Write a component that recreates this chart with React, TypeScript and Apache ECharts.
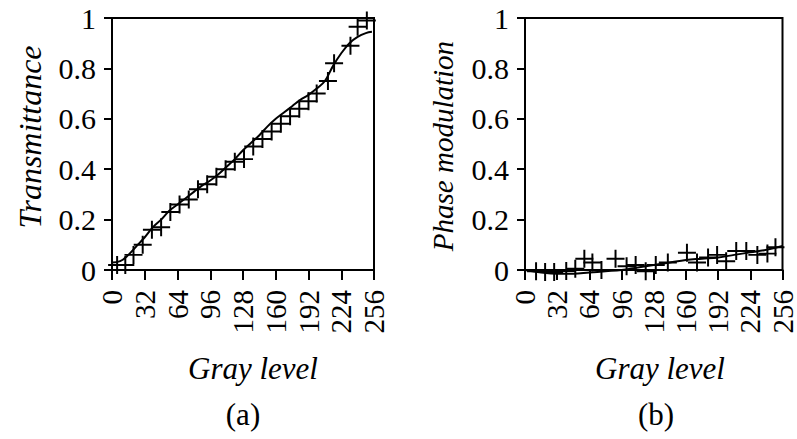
import React, { useEffect, useRef } from "react";
import * as echarts from "echarts";

// Panel (a): transmittance vs gray level
const curveAX = [0, 8, 16, 24, 32, 40, 48, 56, 64, 72, 80, 88, 96, 104, 112, 120, 128, 136, 144, 152, 160, 168, 176, 184, 192, 200, 208, 216, 224, 232, 240, 248, 254];
const curveAY = [0.03, 0.035, 0.06, 0.095, 0.13, 0.17, 0.2, 0.235, 0.26, 0.285, 0.31, 0.335, 0.355, 0.38, 0.41, 0.44, 0.475, 0.505, 0.535, 0.57, 0.6, 0.625, 0.65, 0.675, 0.695, 0.72, 0.75, 0.81, 0.86, 0.9, 0.925, 0.94, 0.945];
const markAX = [5, 13, 21, 30, 39, 48, 57, 66, 75, 84, 93, 102, 111, 120, 129, 138, 147, 156, 165, 174, 183, 192, 200, 211, 217, 233, 240, 249];
const markAY = [0.02, 0.02, 0.06, 0.1, 0.16, 0.17, 0.23, 0.26, 0.28, 0.32, 0.34, 0.37, 0.4, 0.43, 0.44, 0.49, 0.52, 0.55, 0.58, 0.61, 0.64, 0.67, 0.7, 0.75, 0.82, 0.89, 0.965, 0.99];

// Panel (b): phase modulation vs gray level
const curveBX = [0, 16, 32, 48, 64, 80, 96, 112, 128, 144, 160, 176, 192, 208, 224, 240, 256];
const curveBY = [0, -0.01, -0.015, -0.015, -0.01, -0.005, 0, 0.01, 0.02, 0.03, 0.04, 0.045, 0.05, 0.06, 0.07, 0.08, 0.095];
const markBX = [11, 20, 29, 41, 50, 59, 67, 76, 90, 101, 110, 120, 130, 142, 161, 171, 182, 191, 200, 210, 220, 231, 241, 249];
const markBY = [-0.005, -0.008, -0.008, -0.004, 0.005, 0.045, 0.03, 0.0, 0.045, 0.015, 0.02, -0.005, 0.02, 0.03, 0.068, 0.03, 0.05, 0.06, 0.035, 0.075, 0.075, 0.06, 0.065, 0.09];

const xMin = 0;
const xMax = 256;
const xStep = 32;
const yMin = 0;
const yMax = 1;
const yStep = 0.2;

const FONT = "Liberation Serif";
const PLUS = "path://M-1,-0.11H1V0.11H-1Z M-0.11,-1H0.11V1H-0.11Z";

function zip(xs: number[], ys: number[]) {
  return xs.map((x, i) => [x, ys[i]]);
}

export default function App() {
  const ref = useRef<HTMLDivElement>(null);
  useEffect(() => {
    if (!ref.current) return;
    const chart = echarts.init(ref.current, undefined, { renderer: "svg" });
    const grids = [
      { left: 112, top: 18, width: 262, height: 252 },
      { left: 525, top: 18, width: 262, height: 252 },
    ].map((g) => ({ ...g, show: true, borderColor: "#000", borderWidth: 2, backgroundColor: "transparent" }));
    const mkX = (gi: number) => ({
      gridIndex: gi,
      type: "value",
      min: xMin,
      max: xMax,
      interval: xStep,
      axisLine: { show: true, onZero: false, lineStyle: { color: "#000", width: 2 } },
      axisTick: { show: true, length: 10, lineStyle: { color: "#000", width: 2 } },
      axisLabel: { rotate: 90, margin: 20, fontSize: 29, fontFamily: FONT, color: "#000" },
      splitLine: { show: false },
    });
    const mkY = (gi: number) => ({
      gridIndex: gi,
      type: "value",
      min: yMin,
      max: yMax,
      interval: yStep,
      axisLine: { show: true, onZero: false, lineStyle: { color: "#000", width: 2 } },
      axisTick: { show: true, length: 8, lineStyle: { color: "#000", width: 2 } },
      axisLabel: { margin: 16, fontSize: 30, fontFamily: FONT, color: "#000" },
      splitLine: { show: false },
    });
    const lineSeries = (gi: number, data: number[][]) => ({
      type: "line",
      xAxisIndex: gi,
      yAxisIndex: gi,
      data,
      smooth: 0.4,
      showSymbol: false,
      symbol: "none",
      clip: false,
      lineStyle: { color: "#000", width: 2 },
      z: 3,
    });
    const markSeries = (gi: number, data: number[][]) => ({
      type: "scatter",
      xAxisIndex: gi,
      yAxisIndex: gi,
      data,
      symbol: PLUS,
      symbolSize: 18,
      clip: false,
      itemStyle: { color: "#000", opacity: 1 },
      z: 4,
    });
    const txt = (text: string, x: number, y: number, size: number, italic: boolean, rot = 0) => ({
      type: "text",
      x,
      y,
      rotation: rot,
      style: {
        text,
        fontSize: size,
        fontFamily: FONT,
        fontStyle: italic ? "italic" : "normal",
        fill: "#000",
        align: "center",
        verticalAlign: "middle",
      },
    });
    chart.setOption({
      animation: false,
      backgroundColor: "#fff",
      grid: grids,
      xAxis: [mkX(0), mkX(1)],
      yAxis: [mkY(0), mkY(1)],
      series: [
        lineSeries(0, zip(curveAX, curveAY)),
        markSeries(0, zip(markAX, markAY)),
        lineSeries(1, zip(curveBX, curveBY)),
        markSeries(1, zip(markBX, markBY)),
      ],
      graphic: [
        txt("Transmittance", 30, 137, 32, true, Math.PI / 2),
        txt("Phase modulation", 443, 146, 29, true, Math.PI / 2),
        txt("Gray level", 253, 368, 31, true),
        txt("Gray level", 660, 368, 31, true),
        txt("(a)", 243, 414, 31, false),
        txt("(b)", 656, 414, 31, false),
      ],
    });
    return () => chart.dispose();
  }, []);
  return (
    <div
      ref={ref}
      style={{ position: "fixed", left: 0, top: 0, width: 797, height: 439, background: "#fff" }}
    />
  );
}
